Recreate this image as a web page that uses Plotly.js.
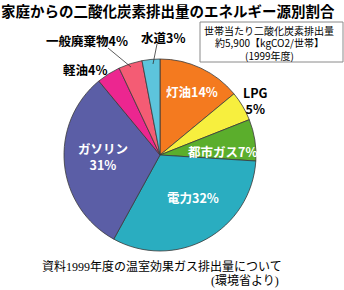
<!DOCTYPE html>
<html><head><meta charset="utf-8">
<script src="https://cdn.plot.ly/plotly-3.0.1.min.js"></script>
<style>html,body{margin:0;padding:0;background:#fff;}#chart{width:344px;height:290px;}</style>
</head><body><div id="chart"></div>
<script>
// Data
const categories = ['灯油','LPG','都市ガス','電力','ガソリン','軽油','一般廃棄物','水道'];
const shares = [14, 5, 7, 32, 31, 4, 4, 3];
const sliceColors = ['#F47A1F','#F7EF3E','#5BAE2C','#2AADC0','#5B5EA6','#EC2690','#F45C74','#5DC4DC'];
const titleText = '家庭からの二酸化炭素排出量のエネルギー源別割合';
const boxLines = ['世帯当たり二酸化炭素排出量','約5,900【kgCO2/世帯】','(1999年度)'];
const footerLines = ['資料1999年度の温室効果ガス排出量について','(環境省より)'];

const W = 344, H = 290;
const px = x => x / W;
const py = y => 1 - y / H;
const cx = 160, cy = 155, R = 96;
const sans = '"Noto Sans CJK JP", "Noto Sans", sans-serif';
const serif = '"Liberation Serif", "Noto Sans CJK JP", serif';

function lab(i, sep) { return categories[i] + (sep || '') + shares[i] + '%'; }

// label positions (pixel) and styles
const labelSpec = [
  {i:0, x:192, y:92, c:'#fff', t:lab(0)},
  {i:1, x:255, y:101, c:'#000', t:lab(1,'<br>')},
  {i:2, x:222, y:151, c:'#fff', t:lab(2)},
  {i:3, x:193, y:197, c:'#fff', t:lab(3)},
  {i:4, x:103, y:156, c:'#fff', t:lab(4,'<br>')},
  {i:5, x:85, y:69, c:'#000', t:lab(5)},
  {i:6, x:87, y:40, c:'#000', t:lab(6)},
  {i:7, x:163, y:37, c:'#000', t:lab(7)}
];

const annotations = labelSpec.map(s => ({
  xref:'paper', yref:'paper', x:px(s.x), y:py(s.y), xanchor:'center', yanchor:'middle',
  text:s.t, showarrow:false, align:'center',
  font:{family:sans, size:12.5, color:s.c, weight:'bold'}
}));

boxLines.forEach((t, k) => annotations.push({
  xref:'paper', yref:'paper', x:px(269), y:py(31 + 12*k), xanchor:'center', yanchor:'middle',
  text:t, showarrow:false, font:{family:sans, size:10, color:'#000'}
}));

annotations.push({xref:'paper', yref:'paper', x:px(40), y:py(267), xanchor:'left', yanchor:'middle',
  text:footerLines[0], showarrow:false, font:{family:serif, size:12, color:'#000'}});
annotations.push({xref:'paper', yref:'paper', x:px(281), y:py(281), xanchor:'right', yanchor:'middle',
  text:footerLines[1], showarrow:false, font:{family:serif, size:12, color:'#000'}});

const shapes = [
  {type:'rect', xref:'paper', yref:'paper', x0:px(200), x1:px(343), y0:py(22), y1:py(62),
   line:{color:'#8a8a8a', width:1}, fillcolor:'rgba(0,0,0,0)'},
  {type:'line', xref:'paper', yref:'paper', x0:px(108), y0:py(48), x1:px(131), y1:py(67),
   line:{color:'#333', width:0.8}},
  {type:'line', xref:'paper', yref:'paper', x0:px(157), y0:py(44), x1:px(153), y1:py(64),
   line:{color:'#333', width:0.8}}
];

const trace = {
  type:'pie', labels:categories, values:shares, sort:false, direction:'clockwise', rotation:0,
  marker:{colors:sliceColors, line:{color:'#3a3a3a', width:0.8}},
  textinfo:'none', hoverinfo:'none', showlegend:false,
  domain:{x:[px(cx-R), px(cx+R)], y:[py(cy+R), py(cy-R)]}
};

const layout = {
  width:W, height:H, margin:{l:0,r:0,t:0,b:0},
  paper_bgcolor:'#fff', plot_bgcolor:'#fff', showlegend:false,
  title:{text:titleText, x:0.003, xanchor:'left', xref:'paper', y:py(12), yanchor:'middle', yref:'container',
    font:{family:sans, size:14.5, color:'#000', weight:'bold'}},
  annotations, shapes
};

Plotly.newPlot('chart', [trace], layout, {staticPlot:true, displayModeBar:false});
</script></body></html>
